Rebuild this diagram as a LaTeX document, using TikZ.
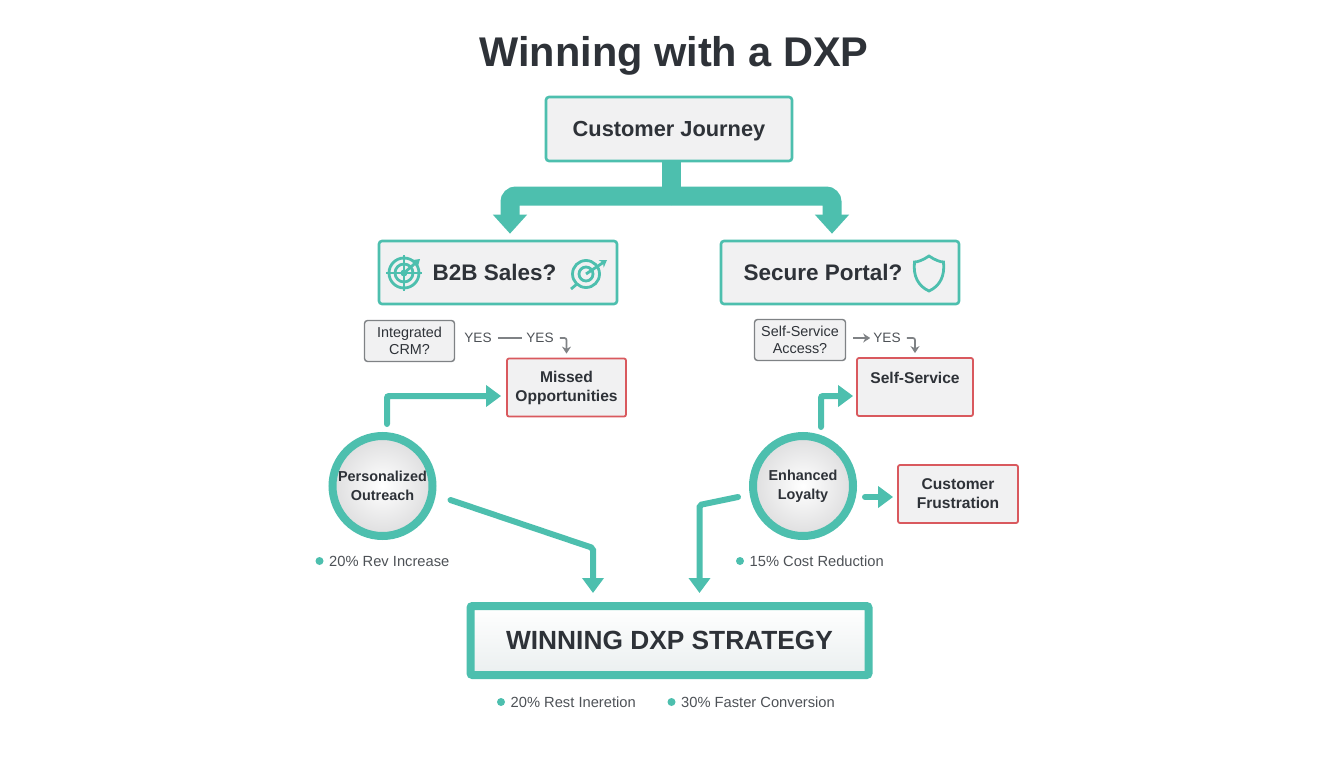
\documentclass[tikz,border=0pt]{standalone}
\usepackage{fontspec}
\setmainfont{Liberation Sans}
\usetikzlibrary{arrows.meta}
\definecolor{teal}{HTML}{4DBFAE}
\definecolor{alert}{HTML}{D9595E}
\definecolor{ink}{HTML}{2E3238}
\definecolor{soft}{HTML}{F1F1F2}
\definecolor{steel}{HTML}{7F8285}
\newcommand{\px}[2]{\fontsize{#1}{#2}\selectfont}
\tikzset{
  x=1pt,y=-1pt,
  every node/.style={inner sep=0pt,align=center,text=ink},
  mainbox/.style={draw=teal,line width=2.6pt,rounded corners=3pt,fill=soft,font=\px{22.5}{26}\bfseries},
  askbox/.style={draw=steel,line width=1.4pt,rounded corners=3pt,fill=soft,font=\px{14.4}{17}},
  riskbox/.style={draw=alert,line width=1.8pt,rounded corners=2pt,fill=soft,font=\px{15.6}{19}\bfseries},
  hub/.style={circle,draw=teal,line width=8pt,inner color=white,outer color=soft!92!black,minimum size=100pt,font=\px{14.4}{19}\bfseries},
  stat/.style={anchor=west,font=\px{14.7}{17},text=ink!85},
  yes/.style={font=\px{13.6}{17},text=ink!85},
  dot/.style={circle,fill=teal,minimum size=8pt},
  trunk/.style={teal,line width=19pt,rounded corners=6pt,-{Triangle[width=33pt,length=19pt]}},
  flow/.style={teal,line width=6pt,line cap=round,rounded corners=2pt,-{Triangle[width=21pt,length=15pt]}},
  minor/.style={steel,line width=1.7pt,-{Stealth[length=7pt,width=9pt]}},
  icon/.style={teal,line width=2.8pt}
}
\begin{document}
\begin{tikzpicture}
\useasboundingbox (0,0) rectangle (1344,768);
% boxes
\node[font=\px{41.5}{48}\bfseries] (title) at (674,55.5) {Winning with a DXP};
\node[mainbox,minimum width=246pt,minimum height=64pt,text depth=0pt,font=\px{21.8}{26}\bfseries] (journey) at (669,129) {Customer Journey};
\node[mainbox,minimum width=238pt,minimum height=63pt] (sales) at (498,272.5) {\hspace*{-7pt}B2B Sales?};
\node[mainbox,minimum width=238pt,minimum height=63pt] (portal) at (840,272.5) {\hspace*{-34pt}Secure Portal?};
\node[askbox,minimum width=90pt,minimum height=41pt] (crm) at (409.5,341) {Integrated\\CRM?};
\node[askbox,minimum width=91pt,minimum height=41pt] (access) at (800,340) {Self-Service\\Access?};
\node[riskbox,minimum width=119pt,minimum height=58pt] (missed) at (566.5,387.5) {Missed\\Opportunities};
\node[riskbox,minimum width=116pt,minimum height=58pt] (selfserve) at (915,387) {Self-Service\\\mbox{}};
\node[riskbox,minimum width=120pt,minimum height=58pt] (frustration) at (958,494) {Customer\\Frustration};
\node[hub] (outreach) at (382.5,486) {Personalized\\Outreach};
\node[hub] (loyalty) at (803,486) {Enhanced\\Loyalty};
\node[draw=teal,line width=8pt,rounded corners=2pt,top color=white,bottom color=soft!96!teal,minimum width=398pt,minimum height=69pt,font=\px{26.3}{30}\bfseries] (strategy) at (669.5,640.5) {WINNING DXP STRATEGY};
% yes labels
\node[yes] (yesa) at (478,338) {YES};
\node[yes] (yesb) at (540,338) {YES};
\node[yes] (yesc) at (887,338) {YES};
% bullets
\foreach \nm/\dx/\dy/\txt in {rev/319.5/561/20\% Rev Increase,cost/740/561/15\% Cost Reduction,rest/501/702/20\% Rest Ineretion,faster/671.5/702/30\% Faster Conversion}{
  \node[dot] (\nm dot) at (\dx,\dy) {};
  \node[stat] (\nm) at (\dx+9.5,\dy) {\txt};
}
% connectors
\coordinate (split) at (671,196);
\draw[teal,line width=19pt] (journey.south -| split) -- (split);
\draw[trunk,shorten >=6pt] (split) -| ([xshift=12pt]sales.north);
\draw[trunk,shorten >=6pt] (split) -| ([xshift=-8pt]portal.north);
\draw[flow] ([xshift=4.5pt,yshift=8pt]outreach.north) |- ([xshift=-5pt,yshift=-8.5pt]missed.west);
\draw[flow] ([xshift=18pt,yshift=5pt]loyalty.north) |- ([xshift=-3pt,yshift=-9pt]selfserve.west);
\draw[flow] ([xshift=8pt,yshift=-11pt]loyalty.east) -- ([xshift=-4pt,yshift=-3pt]frustration.west);
\draw[flow] ([shift={(14pt,-14pt)}]outreach.east) -- (593,548) -- ([xshift=-76.5pt,yshift=9pt]strategy.north);
\draw[flow] ([shift={(-11pt,-11pt)}]loyalty.west) -- (699.5,505) -- ([xshift=30pt,yshift=9pt]strategy.north);
\draw[steel,line width=1.1pt] ([xshift=6pt]yesa.east) -- ([xshift=-4pt]yesb.west);
\draw[minor,rounded corners=2pt] ([xshift=6pt]yesb.east) -| ([yshift=4pt]missed.north);
\draw[minor] ([xshift=7pt]access.east |- yesc.west) -- ([xshift=-3pt]yesc.west);
\draw[minor,rounded corners=2pt] ([xshift=6pt]yesc.east) -| ([yshift=4pt]selfserve.north);
% left target icon
\draw[icon] (404,273) circle (15pt) circle (9pt);
\fill[teal] (404,273) circle (3.5pt);
\draw[icon] (386,273) -- (422,273) (404,255) -- (404,291);
\draw[icon,-{Stealth[length=7pt,width=9pt]}] (404,273) -- (420,259);
% right target icon
\draw[icon] (586,274) circle (13.5pt) circle (7pt);
\draw[icon] (577,284) -- (571,289);
\draw[icon,-{Stealth[length=7pt,width=9pt]}] (586,274) -- (607,260);
% shield icon
\draw[icon] (929,256) .. controls (935,260) and (940,262) .. (943.5,262)
  .. controls (945,276) and (940,286) .. (929,291)
  .. controls (918,286) and (913,276) .. (914.5,262)
  .. controls (918,262) and (923,260) .. (929,256) -- cycle;
\end{tikzpicture}
\end{document}
